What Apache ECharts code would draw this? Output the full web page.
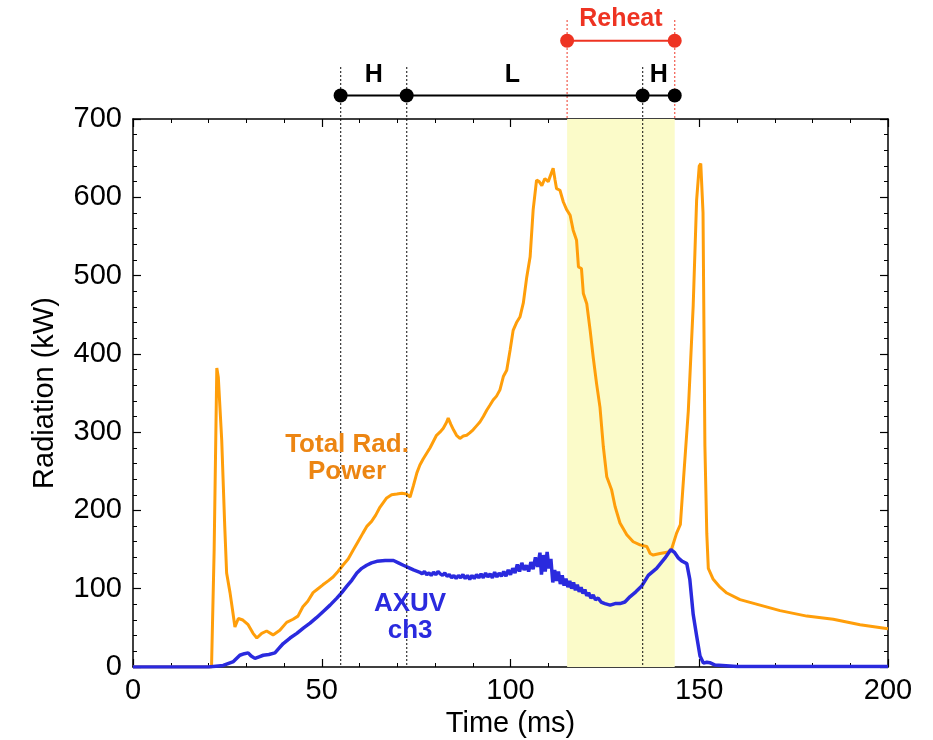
<!DOCTYPE html>
<html><head><meta charset="utf-8">
<script src="https://cdn.jsdelivr.net/npm/echarts@6/dist/echarts.min.js"></script>
<style>html,body{margin:0;padding:0;background:#fff;overflow:hidden}#c{width:933px;height:740px}</style>
</head><body><div id="c"></div>
<script>
// ---- data ----
const radTime = [0,20.8,21.5,22.2,22.6,23.5,24.3,24.8,25.7,26.3,27.0,27.9,29.1,30.5,31.8,32.8,34.1,35.4,37.1,38.9,40.7,42.4,43.7,45.0,46.3,47.7,49.0,50.3,51.7,53.0,54.3,55.6,57.0,58.3,59.6,60.9,62.0,63.2,64.3,65.4,66.3,67.2,68.5,69.9,71.2,72.5,73.4,74.3,75.2,76.0,76.9,78.7,80.4,81.3,82.2,83.0,83.5,84.2,84.9,85.7,86.6,87.5,88.4,89.2,90.1,91.0,91.9,92.8,93.7,94.5,95.4,96.3,97.2,98.1,99.0,99.9,100.7,101.6,102.5,103.4,104.3,105.2,106.0,106.9,107.6,108.3,109.1,110.0,110.6,111.3,111.8,112.2,113.1,114.0,114.9,115.8,116.6,117.5,118.0,118.8,119.3,120.2,121.1,121.9,122.8,123.7,124.6,125.5,126.8,127.7,129.0,130.8,132.5,134.3,136.1,137.0,137.8,139.6,141.8,142.7,144.0,145.0,145.8,147.1,148.4,149.3,150.0,150.4,151.0,151.5,152.0,152.4,153.7,155.5,157.3,160.8,166.1,171.4,178.5,185.5,192.6,200];
const radPower = [0,0,150,382,370,290,180,120,95,75,51,62,60,54,43,37,43,46,41,47,57,61,65,77,84,95,100,105,110,115,122,130,138,149,160,171,180,186,194,204,210,216,220,221,222,221,217,232,248,258,266,280,296,300,305,312,318,310,303,296,292,295,296,299,303,308,313,320,328,334,341,346,354,371,379,405,430,440,447,465,498,524,584,622,620,615,624,620,628,637,622,611,609,594,584,577,558,545,511,509,477,464,430,396,362,332,281,243,226,205,184,169,160,156,154,145,143,145,147,151,171,182,238,327,462,596,640,643,580,282,170,126,112,102,94.5,86,79,72,65,61,54,49];
const axuvTime = [0,20,23.9,26.6,28.3,29.5,30.5,31.3,32.3,33.4,34.5,36,37.6,38.7,39.8,41.6,43.4,45.2,46.9,48.6,50.4,52.2,54.0,55.3,56.6,58.0,59.3,60.6,61.9,63.2,64.6,66.8,69.0,70.3,71.6,73.0,74.3,
  76.0,76.6,77.2,77.8,78.4,79.0,79.6,80.2,80.8,81.4,82.0,82.6,83.2,83.8,84.4,85.0,85.6,86.2,86.8,87.4,88.0,88.6,89.2,89.8,90.4,91.0,91.6,92.2,92.8,93.4,94.0,94.6,95.2,95.8,96.4,97.0,97.6,98.2,98.8,99.4,100.0,100.6,101.2,101.8,102.4,103.0,103.6,104.2,104.8,105.4,106.0,106.6,107.2,107.8,108.2,108.7,109.2,109.7,110.2,110.7,111.2,111.7,112.2,112.7,113.2,113.7,114.2,114.7,115.2,115.7,116.2,116.7,117.2,117.7,118.2,118.7,119.2,119.7,120.2,120.7,121.3,121.9,122.5,123.2,124.0,125.0,
  126.4,127.7,129.0,130.3,131.7,133.2,134.7,136.5,138.7,140.9,142.5,143.5,144.5,145.5,146.7,147.5,148.4,149.3,150.2,151.1,152.0,152.8,154.2,160,200];
const axuvPower = [0,0,2,7,15,17,18,14,11,13,15,16,18,24,30,37,43,50,56,63,71,79,88,95,103,111,120,126,130,133,135,136,136,133,130,127,124,
  121,119,122,118,120,117,121,118,122,119,117,120,116,118,114,117,113,117,114,118,113,117,112,117,113,118,114,119,114,120,115,119,114,121,115,120,116,122,116,124,118,126,120,131,122,133,124,130,122,134,125,140,128,146,118,143,122,147,126,138,108,124,110,122,106,117,104,113,102,110,100,108,98,105,96,102,94,99,91,95,88,92,86,88,83,81,
  79,81,81,83,90,96,103,117,126,139,150,146,139,135,132,112,67,40,14,5,6,5.5,2.5,0.5,0.5];
const xTicks = [0,50,100,150,200];
const yTicks = [0,100,200,300,400,500,600,700];
const phaseTimes = [55,72.5,135,143.5];
const phaseLabels = ['H','L','H'];
const phaseLabelTimes = [63.75,100.5,139.25];
const reheatTimes = [115,143.5];
const phaseLevel = 730, reheatLevel = 800;

// ---- chart ----
const FONT = '"Liberation Sans", Arial, Helvetica, sans-serif';
const ORANGE = '#ff9e0a', ORANGE_TXT = '#ec8512', BLUE = '#2a2ade', RED = '#ee3322';
const zip = (a,b) => a.map((t,i)=>[t,b[i]]);

const axisCommon = {
  axisLine:{show:true,onZero:false,lineStyle:{color:'#000',width:1.5}},
  axisTick:{show:true,inside:true,length:8,lineStyle:{color:'#000',width:1.2}},
  minorTick:{show:true,splitNumber:5,length:4,lineStyle:{color:'#000',width:1}},
  splitLine:{show:false}
};
const xMin = xTicks[0], xMax = xTicks[xTicks.length-1], xInt = xTicks[1]-xTicks[0];
const yMin = yTicks[0], yMax = yTicks[yTicks.length-1], yInt = yTicks[1]-yTicks[0];

const series = [];
series.push({
  type:'line', name:'Total Rad. Power', data:zip(radTime,radPower), showSymbol:false,
  lineStyle:{color:ORANGE,width:3}, z:3,
  markArea:{silent:true, itemStyle:{color:'#fbfbc9'}, data:[[{xAxis:reheatTimes[0]},{xAxis:reheatTimes[1]}]]}
});
series.push({
  type:'line', name:'AXUV ch3', data:zip(axuvTime,axuvPower), showSymbol:false,
  lineStyle:{color:BLUE,width:3.5}, z:4
});
[phaseTimes[0],phaseTimes[1],phaseTimes[2]].forEach(t=>{
  series.push({type:'line',data:[[t,766],[t,0]],showSymbol:false,clip:false,
    lineStyle:{color:'#000',width:1.3,type:[1.5,2.5]},z:5});
});
reheatTimes.forEach(t=>{
  series.push({type:'line',data:[[t,826],[t,yMax]],showSymbol:false,clip:false,
    lineStyle:{color:RED,width:1.3,type:[1.5,2.5]},z:5});
});
series.push({type:'line',data:phaseTimes.map(t=>[t,phaseLevel]),clip:false,showSymbol:true,
  symbol:'circle',symbolSize:14,itemStyle:{color:'#000'},lineStyle:{color:'#000',width:2},z:6});
series.push({type:'line',data:reheatTimes.map(t=>[t,reheatLevel]),clip:false,showSymbol:true,
  symbol:'circle',symbolSize:14,itemStyle:{color:RED},lineStyle:{color:RED,width:2},z:6});
function textSeries(pts, texts, color, size){
  return {type:'scatter',clip:false,symbolSize:1,itemStyle:{color:'rgba(0,0,0,0)',opacity:1},z:7,
    data:pts.map((p,i)=>({value:p,label:{formatter:texts[i]}})),
    label:{show:true,position:'inside',color:color,opacity:1,fontFamily:FONT,fontWeight:'bold',fontSize:size,lineHeight:size+1,align:'center',verticalAlign:'middle'}};
}
series.push(textSeries(phaseLabelTimes.map(t=>[t,756]), phaseLabels, '#000', 25));
series.push(textSeries([[(reheatTimes[0]+reheatTimes[1])/2,827]], ['Reheat'], RED, 25));
series.push(textSeries([[56.7,267]], ['Total Rad.\nPower'], ORANGE_TXT, 26));
series.push(textSeries([[73.4,64]], ['AXUV\nch3'], BLUE, 26));

const chart = echarts.init(document.getElementById('c'), null, {renderer:'canvas'});
chart.setOption({
  animation:false,
  backgroundColor:'#fff',
  grid:{left:133,right:45,top:119,bottom:73,containLabel:false,outerBoundsMode:'none'},
  xAxis:[
    Object.assign({type:'value',position:'bottom',min:xMin,max:xMax,interval:xInt,
      name:'Time (ms)',nameLocation:'middle',nameGap:36,
      nameTextStyle:{fontFamily:FONT,fontSize:29,color:'#000'},
      axisLabel:{show:true,margin:9,fontFamily:FONT,fontSize:29,color:'#000'}},axisCommon),
    Object.assign({type:'value',position:'top',min:xMin,max:xMax,interval:xInt,
      axisLabel:{show:false}},axisCommon)
  ],
  yAxis:[
    Object.assign({type:'value',position:'left',min:yMin,max:yMax,interval:yInt,
      name:'Radiation (kW)',nameLocation:'middle',nameGap:74,nameRotate:90,
      nameTextStyle:{fontFamily:FONT,fontSize:29,color:'#000'},
      axisLabel:{show:true,margin:11,fontFamily:FONT,fontSize:29,color:'#000'}},axisCommon),
    Object.assign({type:'value',position:'right',min:yMin,max:yMax,interval:yInt,
      axisLabel:{show:false}},axisCommon)
  ],
  series:series
});
</script>
</body></html>
